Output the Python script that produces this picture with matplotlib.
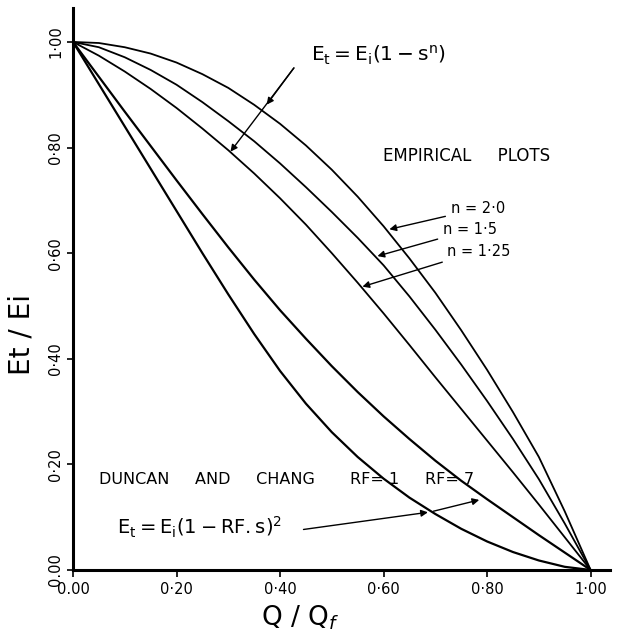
import matplotlib
matplotlib.use("Agg")
import matplotlib.pyplot as plt

# strain ratio Q/Qf, read every 0.05
s = [0.0, 0.05, 0.1, 0.15, 0.2, 0.25, 0.3, 0.35, 0.4, 0.45, 0.5,
     0.55, 0.6, 0.65, 0.7, 0.75, 0.8, 0.85, 0.9, 0.95, 1.0]

# empirical plots Et/Ei
n20 = [1.0, 0.998, 0.990, 0.978, 0.961, 0.939, 0.913, 0.881, 0.845, 0.804, 0.758,
       0.707, 0.651, 0.590, 0.525, 0.454, 0.379, 0.299, 0.214, 0.111, 0.0]
n15 = [1.0, 0.990, 0.971, 0.947, 0.919, 0.886, 0.850, 0.812, 0.770, 0.725, 0.678,
       0.629, 0.577, 0.518, 0.455, 0.389, 0.320, 0.248, 0.172, 0.088, 0.0]
n125 = [1.0, 0.974, 0.944, 0.911, 0.875, 0.836, 0.795, 0.751, 0.704, 0.654, 0.600,
        0.544, 0.486, 0.426, 0.365, 0.305, 0.245, 0.185, 0.124, 0.062, 0.0]

# Duncan and Chang curves
rf_1 = [1.0, 0.92, 0.84, 0.76, 0.68, 0.60, 0.522, 0.447, 0.377, 0.315, 0.261,
        0.214, 0.173, 0.137, 0.106, 0.078, 0.054, 0.034, 0.018, 0.006, 0.0]
rf_07 = [1.0, 0.934, 0.868, 0.803, 0.738, 0.674, 0.611, 0.550, 0.492, 0.438, 0.386,
         0.337, 0.291, 0.248, 0.207, 0.169, 0.134, 0.100, 0.066, 0.033, 0.0]

ticks = [0.0, 0.2, 0.4, 0.6, 0.8, 1.0]
tick_labels = ["0.00", "0·20", "0·40", "0·60", "0·80", "1·00"]

fig = plt.figure(figsize=(6.17, 6.37), dpi=100)
ax = fig.add_axes([0.1183, 0.1052, 0.870, 0.882])

for ys in (n20, n15, n125):
    ax.plot(s, ys, color="black", lw=1.3)
for ys in (rf_1, rf_07):
    ax.plot(s, ys, color="black", lw=1.6)

ax.set_xlim(0, 1.037)
ax.set_ylim(0, 1.064)
ax.spines["top"].set_visible(False)
ax.spines["right"].set_visible(False)
ax.spines["left"].set_linewidth(2.2)
ax.spines["bottom"].set_linewidth(2.2)

ax.set_xticks(ticks)
ax.set_xticklabels(tick_labels, fontsize=10.5)
ax.set_yticks(ticks)
ax.set_yticklabels(tick_labels, fontsize=10.5, rotation=90, va="center")
ax.tick_params(axis="x", length=5, width=1.2, pad=4)
ax.tick_params(axis="y", length=4, width=1.2, pad=3)

ax.set_xlabel("Q / Q$_f$", fontsize=19)
ax.xaxis.set_label_coords(0.423, -0.06)
ax.set_ylabel("Et / Ei", fontsize=20)
ax.yaxis.set_label_coords(-0.07, 0.42)

arrow = dict(arrowstyle="-|>", color="black", lw=1.0, mutation_scale=10)

# empirical formula and arrows
ax.text(0.589, 0.974, "$\\mathsf{E_t = E_i(1 - s^n)}$", fontsize=14.5, ha="center", va="center")
ax.annotate("", xy=(0.301, 0.788), xytext=(0.43, 0.955), arrowprops=arrow)
ax.annotate("", xy=(0.371, 0.877), xytext=(0.43, 0.955), arrowprops=arrow)
ax.text(0.598, 0.784, "EMPIRICAL     PLOTS", fontsize=12, ha="left", va="center")

ax.annotate("n = 2·0", xy=(0.606, 0.644), xytext=(0.73, 0.684), fontsize=10.5,
            va="center", arrowprops=arrow)
ax.annotate("n = 1·5", xy=(0.583, 0.593), xytext=(0.715, 0.644), fontsize=10.5,
            va="center", arrowprops=arrow)
ax.annotate("n = 1·25", xy=(0.554, 0.535), xytext=(0.722, 0.604), fontsize=10.5,
            va="center", arrowprops=arrow)

# Duncan and Chang
ax.text(0.05, 0.172, "DUNCAN     AND     CHANG", fontsize=11.5, ha="left", va="center")
ax.text(0.535, 0.172, "RF= 1", fontsize=11.5, ha="left", va="center")
ax.text(0.68, 0.172, "RF= 7", fontsize=11.5, ha="left", va="center")
ax.text(0.085, 0.08, "$\\mathsf{E_t = E_i(1 - RF.s)^2}$", fontsize=14, ha="left", va="center")
ax.annotate("", xy=(0.691, 0.110), xytext=(0.44, 0.076), arrowprops=arrow)
ax.annotate("", xy=(0.79, 0.134), xytext=(0.691, 0.110), arrowprops=arrow)

fig.savefig("out.png", dpi=100)
